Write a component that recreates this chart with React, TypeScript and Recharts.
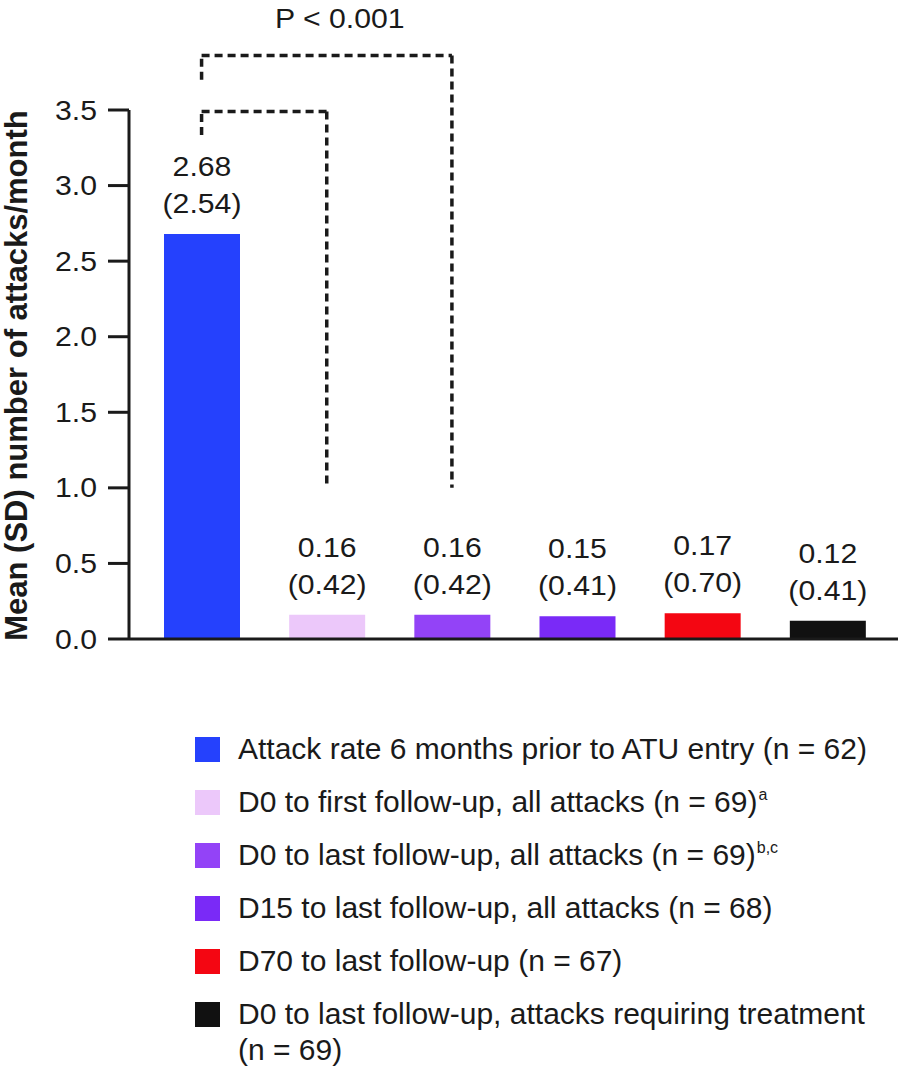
import React from 'react';
import { BarChart, Bar, XAxis, YAxis, Cell, LabelList, ReferenceLine, Legend, Label } from 'recharts';

const categories = ['pre', 'd0first', 'd0last', 'd15last', 'd70last', 'd0treat'];
const means = [2.68, 0.16, 0.16, 0.15, 0.17, 0.12];
const sds = [2.54, 0.42, 0.42, 0.41, 0.70, 0.41];
const colors = ['#2541fd', '#ecc8fa', '#9343f7', '#7a2af7', '#f40612', '#111111'];
const legendLabels = [
  'Attack rate 6 months prior to ATU entry (n\u00a0=\u00a062)',
  'D0 to first follow-up, all attacks (n\u00a0=\u00a069)',
  'D0 to last follow-up, all attacks (n\u00a0=\u00a069)',
  'D15 to last follow-up, all attacks (n\u00a0=\u00a068)',
  'D70 to last follow-up (n\u00a0=\u00a067)',
  'D0 to last follow-up, attacks requiring treatment (n\u00a0=\u00a069)',
];
const legendSup = ['', 'a', 'b,c', '', '', ''];
const yTicks = [0, 0.5, 1.0, 1.5, 2.0, 2.5, 3.0, 3.5];
const yLabel = 'Mean (SD) number of attacks/month';
const pText = 'P < 0.001';

// brackets (data units)
const innerBracket = { from: 'pre', to: 'd0first', startY: 3.335, topY: 3.49, endY: 1.0 };
const outerBracket = { from: 'pre', to: 'd0last', startY: 3.70, topY: 3.86, endY: 1.0 };

const data = categories.map((c, i) => ({ key: c, mean: means[i], sd: sds[i] }));

const FONT = '"Liberation Sans", Arial, Helvetica, sans-serif';
const INK = '#1a1a1a';
const SX = 1.12;

const WideText = ({ x, y, anchor = 'middle', size = 27, children }: any) => (
  <text
    transform={`translate(${x},${y}) scale(${SX},1)`}
    x={0}
    y={0}
    textAnchor={anchor}
    fontSize={size}
    fill={INK}
    fontFamily={FONT}
  >
    {children}
  </text>
);

const ValueLabel = (props: any) => {
  const { x, y, width, index } = props;
  const cx = x + width / 2;
  const base = y - 21;
  return (
    <g>
      <WideText x={cx} y={base - 37}>{means[index].toFixed(2)}</WideText>
      <WideText x={cx} y={base}>{'(' + sds[index].toFixed(2) + ')'}</WideText>
    </g>
  );
};

const YTick = (props: any) => {
  const { x, y, payload } = props;
  return (
    <WideText x={x} y={y + 9.5} anchor="end">
      {Number(payload.value).toFixed(1)}
    </WideText>
  );
};

const YLabel = (props: any) => {
  const vb = props.viewBox || { x: 0, y: 110, width: 129, height: 529 };
  const cx = vb.x + 27;
  const cy = vb.y + vb.height / 2 + 1;
  return (
    <text
      x={cx}
      y={cy}
      transform={`rotate(-90, ${cx}, ${cy})`}
      textAnchor="middle"
      fontSize={31}
      fontWeight="bold"
      fill={INK}
      fontFamily={FONT}
    >
      {yLabel}
    </text>
  );
};

const PLabel = (props: any) => {
  const vb = props.viewBox;
  if (!vb) return null;
  return (
    <WideText x={vb.x + vb.width / 2 + 13} y={vb.y - 28}>
      {pText}
    </WideText>
  );
};

const LegendContent = () => (
  <div style={{ fontFamily: FONT, color: INK }}>
    {legendLabels.map((l, i) => (
      <div key={i} style={{ display: 'flex', alignItems: 'flex-start', minHeight: 53 }}>
        <div
          style={{
            width: 25,
            height: 25,
            marginLeft: 195,
            marginTop: 5.5,
            background: colors[i],
            flex: '0 0 auto',
          }}
        />
        <div style={{ marginLeft: 18, width: 650, fontSize: 30, lineHeight: '36px', textAlign: 'left' }}>
          {l}
          {legendSup[i] ? (
            <span style={{ fontSize: 16, position: 'relative', top: -12, marginLeft: 1 }}>{legendSup[i]}</span>
          ) : null}
        </div>
      </div>
    ))}
  </div>
);

const dashProps = {
  stroke: INK,
  strokeWidth: 3.5,
  strokeDasharray: '8 5',
  ifOverflow: 'visible' as const,
};

export default function App() {
  return (
    <div style={{ position: 'absolute', left: 0, top: 0, width: 898, height: 1074, background: '#fff' }}>
      <BarChart
        width={898}
        height={1074}
        data={data}
        margin={{ top: 110, right: 0, left: 0, bottom: 405 }}
      >
        <XAxis
          dataKey="key"
          tick={false}
          tickSize={20}
          tickLine={{ stroke: INK, strokeWidth: 3 }}
          axisLine={{ stroke: INK, strokeWidth: 3 }}
          height={30}
          padding={{ left: 10, right: 8 }}
        />
        <YAxis
          domain={[0, 3.5]}
          ticks={yTicks}
          type="number"
          width={129}
          tickSize={21}
          tickMargin={11}
          tick={<YTick />}
          tickLine={{ stroke: INK, strokeWidth: 3 }}
          axisLine={{ stroke: INK, strokeWidth: 3 }}
          allowDataOverflow
        >
          <Label content={<YLabel />} />
        </YAxis>
        <Bar dataKey="mean" barSize={76} isAnimationActive={false}>
          {data.map((d, i) => (
            <Cell key={d.key} fill={colors[i]} />
          ))}
          <LabelList dataKey="mean" content={<ValueLabel />} />
        </Bar>
        <ReferenceLine {...dashProps} segment={[{ x: innerBracket.from, y: innerBracket.startY }, { x: innerBracket.from, y: innerBracket.topY }]} />
        <ReferenceLine {...dashProps} segment={[{ x: innerBracket.from, y: innerBracket.topY }, { x: innerBracket.to, y: innerBracket.topY }]} />
        <ReferenceLine {...dashProps} segment={[{ x: innerBracket.to, y: innerBracket.topY }, { x: innerBracket.to, y: innerBracket.endY }]} />
        <ReferenceLine {...dashProps} segment={[{ x: outerBracket.from, y: outerBracket.startY }, { x: outerBracket.from, y: outerBracket.topY }]} />
        <ReferenceLine
          {...dashProps}
          segment={[{ x: outerBracket.from, y: outerBracket.topY }, { x: outerBracket.to, y: outerBracket.topY }]}
          label={<PLabel />}
        />
        <ReferenceLine {...dashProps} segment={[{ x: outerBracket.to, y: outerBracket.topY }, { x: outerBracket.to, y: outerBracket.endY }]} />
        <Legend
          layout="horizontal"
          verticalAlign="middle"
          align="center"
          content={<LegendContent />}
          wrapperStyle={{ position: 'absolute', top: 731, left: 0, width: 898, margin: 0 }}
        />
      </BarChart>
    </div>
  );
}
